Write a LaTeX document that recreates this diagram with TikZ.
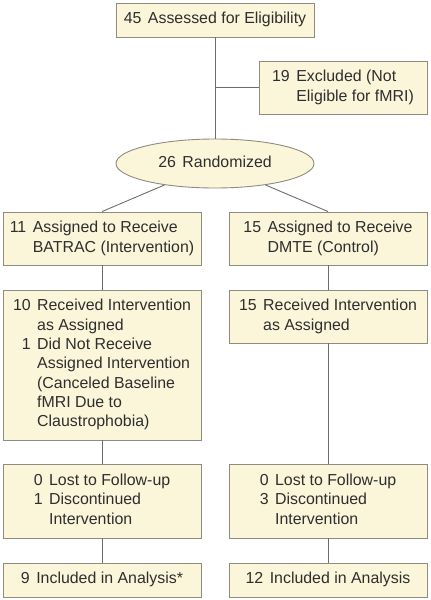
\documentclass[tikz,border=0pt]{standalone}
\usepackage{fontspec}
\setmainfont{Liberation Sans}
\usetikzlibrary{shapes.geometric}
\definecolor{boxfill}{HTML}{FBF6DA}
\definecolor{boxline}{HTML}{8C8C80}
\definecolor{linkcol}{HTML}{6E6E66}
\definecolor{txt}{HTML}{2E2E2E}
\newenvironment{flowtab}{\begin{tabular}{@{}r@{\hspace{6.5pt}}l@{}}}{\end{tabular}}
\begin{document}
\begin{tikzpicture}[x=1pt,y=-1pt,
  every node/.style={font=\fontsize{15.9}{19.3}\selectfont, text=txt},
  fbox/.style={draw=boxline, fill=boxfill, line width=0.9pt, inner sep=0pt, minimum width=198pt},
  link/.style={draw=linkcol, line width=0.9pt}]
\useasboundingbox (0,0) rectangle (431,600);
\node[fbox, minimum height=34pt] (top) at (215,20) {\begin{flowtab}45 & Assessed for Eligibility\end{flowtab}};
\node[fbox, minimum width=168pt, minimum height=53pt] (excl) at (343,87.5) {\begin{flowtab}19 & Excluded (Not\\ & Eligible for fMRI)\end{flowtab}};
\node[ellipse, draw=boxline, fill=boxfill, line width=0.9pt, inner sep=0pt, minimum width=198pt, minimum height=49pt] (rand) at (215,163.5) {\begin{flowtab}26 & Randomized\end{flowtab}};
\node[fbox, minimum height=53pt] (la) at (102,238.5) {\begin{flowtab}11 & Assigned to Receive\\ & BATRAC (Intervention)\end{flowtab}};
\node[fbox, minimum height=53pt] (ra) at (328,238.5) {\begin{flowtab}15 & Assigned to Receive\\ & DMTE (Control)\end{flowtab}};
\node[fbox, minimum height=150pt] (lb) at (102,365) {\begin{flowtab}10 & Received Intervention\\ & as Assigned\\ 1 & Did Not Receive\\ & Assigned Intervention\\ & (Canceled Baseline\\ & fMRI Due to\\ & Claustrophobia)\end{flowtab}};
\node[fbox, minimum height=53pt] (rb) at (328,316.5) {\begin{flowtab}15 & Received Intervention\\ & as Assigned\end{flowtab}};
\node[fbox, minimum height=74pt] (lc) at (102,501) {\begin{flowtab}0 & Lost to Follow-up\\ 1 & Discontinued\\ & Intervention\end{flowtab}};
\node[fbox, minimum height=74pt] (rc) at (328,501) {\begin{flowtab}0 & Lost to Follow-up\\ 3 & Discontinued\\ & Intervention\end{flowtab}};
\node[fbox, minimum height=34pt] (ld) at (102,580) {\begin{flowtab}9 & Included in Analysis*\end{flowtab}};
\node[fbox, minimum height=34pt] (rd) at (328,580) {\begin{flowtab}12 & Included in Analysis\end{flowtab}};
\coordinate (split) at (top |- excl.west);
\draw[link] (top) -- (rand);
\draw[link] (split) -- (excl);
\draw[link] (rand) -- (la.north);
\draw[link] (rand) -- (ra.north);
\draw[link] (la) -- (lb);
\draw[link] (lb) -- (lc);
\draw[link] (lc) -- (ld);
\draw[link] (ra) -- (rb);
\draw[link] (rb) -- (rc);
\draw[link] (rc) -- (rd);
\end{tikzpicture}
\end{document}
